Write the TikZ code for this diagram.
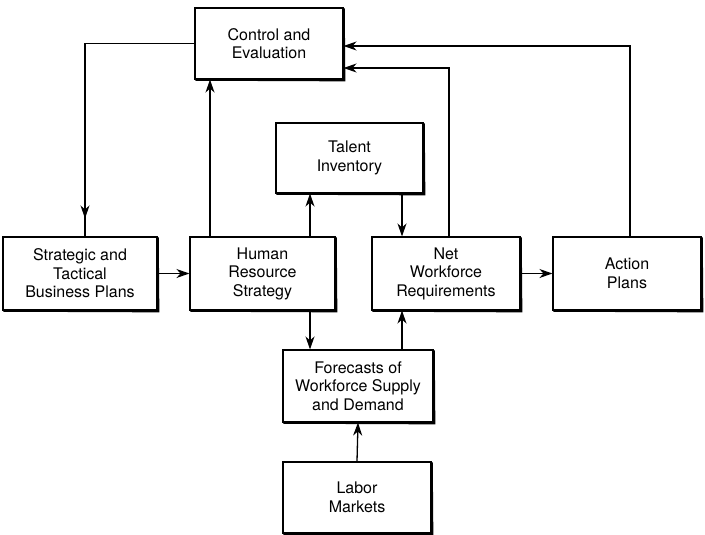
\documentclass[tikz,border=0pt]{standalone}
\usepackage{fontspec}
\setmainfont{TeX Gyre Heros}
\usetikzlibrary{arrows.meta,decorations.markings}
\begin{document}
\begin{tikzpicture}[x=1pt,y=-1pt,
  box/.style={draw,line width=1.1pt,align=center,inner sep=2pt,
    font=\fontsize{16}{18.5}\selectfont},
  link/.style={line width=1.3pt},
  tip/.style={Stealth[length=13pt,width=9pt,inset=4pt]},
  arr/.style={link,-{Stealth[length=13pt,width=9pt,inset=4pt]}}]
\useasboundingbox (0,0) rectangle (705,535);

% boxes (centre, width, height)
\node[box,minimum width=148pt,minimum height=71pt] (ce) at (269,43.5) {Control and\\Evaluation};
\node[box,minimum width=147pt,minimum height=70pt] (ti) at (349.5,158) {Talent\\Inventory};
\node[box,minimum width=154pt,minimum height=73pt] (strat) at (80,273.5) {Strategic and\\Tactical\\Business Plans};
\node[box,minimum width=145pt,minimum height=73pt] (hr) at (262.5,273.5) {Human\\Resource\\Strategy};
\node[box,minimum width=148pt,minimum height=73pt] (nwr) at (446,273.5) {Net\\Workforce\\Requirements};
\node[box,minimum width=148pt,minimum height=73pt] (ap) at (627,273.5) {Action\\Plans};
\node[box,minimum width=150pt,minimum height=72pt] (fc) at (358,386) {Forecasts of\\Workforce Supply\\and Demand};
\node[box,minimum width=148pt,minimum height=71pt] (lm) at (357,497.5) {Labor\\Markets};

% heavier lower and right edges of every box
\foreach \n in {ce,ti,strat,hr,nwr,ap,fc,lm}
  \draw[line width=2.4pt] ([xshift=1pt]\n.south west) -- ([xshift=0.6pt,yshift=-0.6pt]\n.south east) -- ([yshift=-1pt]\n.north east);

% feedback from control to the business plans
\draw[link,decoration={markings,mark=at position -18pt with {\arrow{Stealth[length=13pt,width=9pt,inset=4pt]}}},postaction={decorate}]
  (ce.west) -| ([xshift=5pt]strat.north);

% main chain
\draw[arr] (strat.east) -- (hr.west);
\draw[arr] (nwr.east) -- (ap.west);
\draw[arr] ([xshift=-52.5pt]hr.north) -- ([xshift=-52.5pt]hr.north |- ce.south);
\draw[arr] ([xshift=47.5pt]hr.north) -- ([xshift=47.5pt]hr.north |- ti.south);
\draw[arr] ([xshift=-44pt]nwr.north |- ti.south) -- ([xshift=-44pt]nwr.north);
\draw[arr] ([xshift=47.5pt]hr.south) -- ([xshift=47.5pt]hr.south |- fc.north);
\draw[arr] ([xshift=-44pt]nwr.south |- fc.north) -- ([xshift=-44pt]nwr.south);
\draw[arr] (lm.north) -- (fc.south);

% returns to control and evaluation
\draw[arr] ([xshift=3pt]nwr.north) |- ([yshift=-24.5pt]ce.east);
\draw[arr] ([xshift=3pt]ap.north) |- ([yshift=-2.5pt]ce.east);
\end{tikzpicture}
\end{document}
